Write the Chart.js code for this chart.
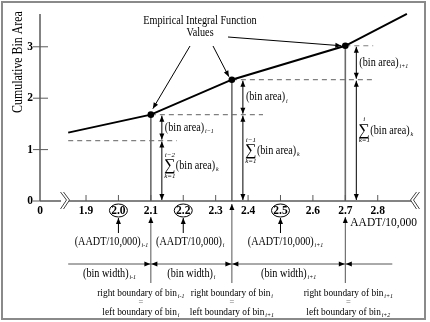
<!DOCTYPE html>
<html>
<head>
<meta charset="utf-8">
<script src="https://cdn.jsdelivr.net/npm/chart.js@4"></script>
<style>
  html, body { margin: 0; padding: 0; background: #fff; }
</style>
</head>
<body>
<canvas id="myChart" width="430" height="322"></canvas>
<script>
// curve of the empirical integral function (AADT/10,000 vs cumulative bin area)
const curveX = [1.845, 2.1, 2.35, 2.7, 2.89];
const curveY = [1.33, 1.68, 2.36, 3.02, 3.64];
// bin boundaries and the cumulative area reached at each of them
const boundaries = [2.1, 2.35, 2.7];
const cumArea = [1.68, 2.36, 3.02];
const prevCum = 1.175; // sum up to bin i-2
// circled AADT values (bin centres)
const binMids = [2.0, 2.2, 2.5];
const xTicks = [1.9, 2.0, 2.1, 2.2, 2.3, 2.4, 2.5, 2.6, 2.7, 2.8];
const yTicks = [0, 1, 2, 3];
const xStart = 1.758; // where the broken axis begins, labelled "0"

const serif = '"Liberation Serif", "Times New Roman", serif';
const SX = 0.85; // the figure uses a narrow serif face

function seg(ctx, x1, y1, x2, y2) {
  ctx.beginPath();
  ctx.moveTo(x1, y1);
  ctx.lineTo(x2, y2);
  ctx.stroke();
}

function head(ctx, x, y, ang, len = 6, hw = 2.5) {
  const c = Math.cos(ang), s = Math.sin(ang);
  ctx.beginPath();
  ctx.moveTo(x, y);
  ctx.lineTo(x - len * c + hw * s, y - len * s - hw * c);
  ctx.lineTo(x - len * c - hw * s, y - len * s + hw * c);
  ctx.closePath();
  ctx.fill();
}

function arrow(ctx, x1, y1, x2, y2) {
  seg(ctx, x1, y1, x2, y2);
  head(ctx, x2, y2, Math.atan2(y2 - y1, x2 - x1));
}

function dblArrow(ctx, x, yTop, yBot) {
  seg(ctx, x, yTop, x, yBot);
  head(ctx, x, yTop, -Math.PI / 2);
  head(ctx, x, yBot, Math.PI / 2);
}

// text with an optional italic subscript, squeezed horizontally
function label(ctx, main, sub, x, y, align = 'left', size = 12) {
  ctx.save();
  ctx.translate(x, y);
  ctx.scale(SX, 1);
  ctx.textBaseline = 'middle';
  ctx.textAlign = 'left';
  ctx.font = size + 'px ' + serif;
  const w1 = ctx.measureText(main).width;
  ctx.font = 'italic ' + Math.round(size * 0.62) + 'px ' + serif;
  const w2 = sub ? ctx.measureText(sub).width + 1 : 0;
  const w = w1 + w2;
  let cx = align === 'center' ? -w / 2 : align === 'right' ? -w : 0;
  ctx.font = size + 'px ' + serif;
  ctx.fillText(main, cx, 0);
  if (sub) {
    ctx.font = 'italic ' + Math.round(size * 0.62) + 'px ' + serif;
    ctx.fillText(sub, cx + w1 + 1, 3.5);
  }
  ctx.restore();
}

function sumLabel(ctx, top, x, y) {
  ctx.save();
  ctx.textAlign = 'center';
  ctx.textBaseline = 'middle';
  ctx.font = '16px ' + serif;
  ctx.fillText('\u2211', x + 5, y);
  ctx.font = 'italic 7px ' + serif;
  ctx.fillText(top, x + 5, y - 11);
  ctx.fillText('k=1', x + 5, y + 10);
  ctx.restore();
  label(ctx, '(bin area)', 'k', x + 11, y);
}

function breakMark(ctx, x, y, dir) {
  ctx.save();
  ctx.fillStyle = '#fff';
  ctx.fillRect(x - 4, y - 2, 8, 4);
  ctx.strokeStyle = '#444';
  ctx.lineWidth = 1;
  [-1.5, 1.5].forEach(o => {
    ctx.beginPath();
    ctx.moveTo(x + o + 3 * dir, y - 9);
    ctx.lineTo(x + o - 3 * dir, y - 1);
    ctx.lineTo(x + o + 3 * dir, y + 8);
    ctx.stroke();
  });
  ctx.restore();
}

const dashTo = [2.18, 2.446, 2.786, 2.786];

const annotate = {
  id: 'annotate',
  beforeDatasetsDraw(chart) {
    const { ctx, scales: { x, y } } = chart;
    const px = v => x.getPixelForValue(v), py = v => y.getPixelForValue(v);
    ctx.save();
    // dashed level lines
    ctx.strokeStyle = '#808080';
    ctx.lineWidth = 1.2;
    ctx.setLineDash([5, 4]);
    const levels = [prevCum, ...cumArea];
    const from = [curveX[0], ...boundaries];
    levels.forEach((v, i) => seg(ctx, px(from[i]), py(v), px(dashTo[i]), py(v)));
    ctx.setLineDash([]);
    // drop lines from the marked points
    ctx.strokeStyle = '#6a6a6a';
    ctx.lineWidth = 1.6;
    boundaries.forEach((b, i) => seg(ctx, px(b), py(cumArea[i]), px(b), py(0)));
    ctx.restore();
  },
  afterDraw(chart) {
    const { ctx, chartArea: area, scales: { x, y } } = chart;
    const px = v => x.getPixelForValue(v), py = v => y.getPixelForValue(v);
    const x0 = area.left, y0 = py(0);
    ctx.save();

    // frame
    ctx.strokeStyle = '#8a8a8a';
    ctx.lineWidth = 2;
    ctx.strokeRect(2, 2, 423, 317);

    // axes
    ctx.strokeStyle = '#5a5a5a';
    ctx.lineWidth = 1.5;
    seg(ctx, x0, area.top, x0, y0);
    seg(ctx, x0, y0, area.right - 1, y0);
    ctx.lineWidth = 1;
    yTicks.forEach(t => seg(ctx, x0 - 7, py(t), t === 0 ? x0 : x0 + 8, py(t)));
    xTicks.forEach(t => seg(ctx, px(t), y0 - 6, px(t), y0));
    breakMark(ctx, px((xStart + xTicks[0]) / 2) + 2, y0, -1);
    breakMark(ctx, area.right, y0, 1);

    // y title
    ctx.save();
    ctx.translate(18, 62);
    ctx.rotate(-Math.PI / 2);
    label(ctx, 'Cumulative Bin Area', '', 0, 0, 'center', 14);
    ctx.restore();

    ctx.fillStyle = '#000';
    ctx.strokeStyle = '#000';
    ctx.lineWidth = 1;

    // bin area arrows and labels
    const areaSubs = ['i\u22121', 'i', 'i+1'];
    const sumTops = ['i\u22122', 'i\u22121', 'i'];
    boundaries.forEach((b, i) => {
      const ax = px(b) + 11;
      const top = py(cumArea[i]);
      const mid = py(i === 0 ? prevCum : cumArea[i - 1]);
      dblArrow(ctx, ax, top + 1, mid - 1);
      dblArrow(ctx, ax, mid + 1, y0 - 1);
      label(ctx, '(bin area)', areaSubs[i], ax + 3, (top + mid) / 2);
      sumLabel(ctx, sumTops[i], ax + 3, mid + (y0 - mid) * 0.42);
    });

    // "Empirical Integral Function Values" callout
    label(ctx, 'Empirical Integral Function', '', 200, 21, 'center');
    label(ctx, 'Values', '', 200, 33, 'center');
    const pts = boundaries.map((b, i) => [px(b), py(cumArea[i])]);
    arrow(ctx, 190, 46, pts[0][0] + 2, pts[0][1] - 6);
    arrow(ctx, 213, 46, pts[1][0] - 3, pts[1][1] - 3);
    arrow(ctx, 228, 37, pts[2][0] - 4, pts[2][1]);

    // circled bin centres with their AADT labels
    const aadtSubs = ['i-1', 'i', 'i+1'];
    const aadtShift = [-7, 7, 5];
    binMids.forEach((m, i) => {
      const cx = px(m);
      ctx.beginPath();
      ctx.ellipse(cx, 210.5, 9, 6.5, 0, 0, Math.PI * 2);
      ctx.stroke();
      arrow(ctx, cx, 233, cx, 218);
      label(ctx, '(AADT/10,000)', aadtSubs[i], cx + aadtShift[i], 242, 'center');
    });
    label(ctx, 'AADT/10,000', '', px(2.7) + 5, 222, 'left', 13.5);

    // bin boundaries below the axis
    ctx.strokeStyle = '#555';
    boundaries.forEach(b => {
      const bx = px(b);
      const onTick = xTicks.some(t => Math.abs(t - b) < 1e-6);
      arrow(ctx, bx, 283, bx, onTick ? 217 : 204);
    });

    // bin widths
    const wy = 264;
    seg(ctx, px(curveX[0]), wy, px(2.845), wy);
    boundaries.forEach(b => {
      head(ctx, px(b) - 0.5, wy, 0, 6, 2.5);
      head(ctx, px(b) + 0.5, wy, Math.PI, 6, 2.5);
    });
    const edges = [curveX[0], ...boundaries];
    const widthSubs = ['i-1', 'i', 'i+1'];
    widthSubs.forEach((s, i) => {
      label(ctx, '(bin width)', s, (px(edges[i]) + px(edges[i + 1])) / 2, 274, 'center');
    });

    // boundary captions
    const rightSubs = ['i-1', 'i', 'i+1'];
    const leftSubs = ['i', 'i+1', 'i+2'];
    const capShift = [-10, 0, 3];
    boundaries.forEach((b, i) => {
      const bx = px(b) + capShift[i];
      label(ctx, 'right boundary of bin', rightSubs[i], bx, 293, 'center', 11);
      ctx.save();
      ctx.fillStyle = '#777';
      label(ctx, '=', '', bx, 302, 'center', 10);
      ctx.restore();
      label(ctx, 'left boundary of bin', leftSubs[i], bx, 312, 'center', 11);
    });

    ctx.restore();
  }
};

const ctx = document.getElementById('myChart').getContext('2d');
const myChart = new Chart(ctx, {
  type: 'line',
  data: {
    datasets: [{
      data: curveX.map((v, i) => ({ x: v, y: curveY[i] })),
      borderColor: '#000',
      borderWidth: 2,
      pointRadius: curveX.map(v => boundaries.includes(v) ? 3.3 : 0),
      pointBorderWidth: 0,
      pointBackgroundColor: '#000',
      pointBorderColor: '#000',
      tension: 0,
      clip: false
    }]
  },
  options: {
    responsive: false,
    animation: false,
    layout: { padding: { top: 10, right: 15, left: 0, bottom: 0 } },
    scales: {
      x: {
        type: 'linear',
        min: xStart,
        max: 2.915,
        afterFit: s => { s.height = 121; },
        afterBuildTicks: s => { s.ticks = [xStart, ...xTicks].map(v => ({ value: v })); },
        grid: { display: false, drawTicks: false },
        border: { display: false },
        ticks: {
          autoSkip: false,
          maxRotation: 0,
          padding: 3,
          color: '#000',
          font: { family: serif, size: 11.5, weight: 'bold' },
          callback: v => v === xStart ? '0' : v.toFixed(1)
        }
      },
      y: {
        min: 0,
        max: 3.64,
        afterFit: s => { s.width = 40; },
        afterBuildTicks: s => { s.ticks = yTicks.map(v => ({ value: v })); },
        grid: { display: false, drawTicks: false },
        border: { display: false },
        ticks: {
          padding: 7,
          color: '#000',
          font: { family: serif, size: 11.5, weight: 'bold' }
        }
      }
    },
    plugins: {
      legend: { display: false },
      tooltip: { enabled: false }
    }
  },
  plugins: [annotate]
});
</script>
</body>
</html>
